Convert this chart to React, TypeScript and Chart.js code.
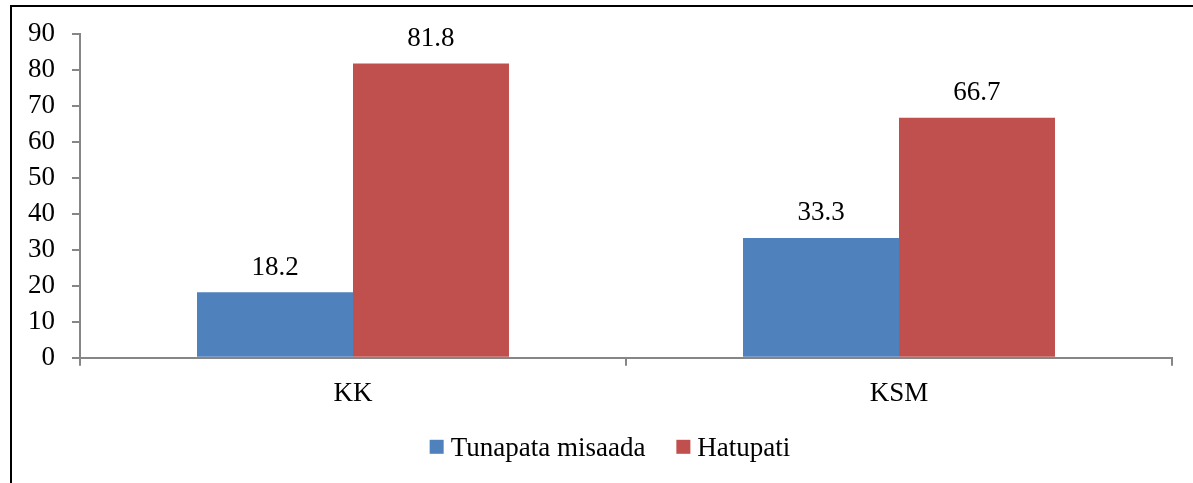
import React, { useEffect, useRef } from "react";
import { Chart, registerables } from "chart.js";

Chart.register(...registerables);

const categories = ["KK", "KSM"];
const seriesNames = ["Tunapata misaada", "Hatupati"];
const tunapataValues = [18.2, 33.3];
const hatupatiValues = [81.8, 66.7];
const seriesColors = ["#4F81BD", "#C0504D"];
const yMin = 0;
const yMax = 90;
const yStep = 10;

const FONT_FAMILY = "'Liberation Serif', 'Times New Roman', serif";
const FONT_SIZE = 27;
const FONT = `${FONT_SIZE}px ${FONT_FAMILY}`;
const AXIS_COLOR = "#868686";

const valueLabelPlugin = {
  id: "valueLabels",
  afterDatasetsDraw(chart: any) {
    const ctx = chart.ctx;
    ctx.save();
    ctx.font = FONT;
    ctx.fillStyle = "#000";
    ctx.textAlign = "center";
    ctx.textBaseline = "alphabetic";
    chart.data.datasets.forEach((ds: any, i: number) => {
      const meta = chart.getDatasetMeta(i);
      meta.data.forEach((el: any, j: number) => {
        const v = ds.data[j];
        ctx.fillText(String(v), el.x, el.y - 17.5);
      });
    });
    ctx.restore();
  },
};

const legendPlugin = {
  id: "customLegend",
  afterDraw(chart: any) {
    const ctx = chart.ctx;
    ctx.save();
    ctx.font = FONT;
    ctx.textAlign = "left";
    ctx.textBaseline = "alphabetic";
    const box = 14;
    const gapBoxText = 7;
    const gapItems = 31;
    const items = chart.data.datasets.map((ds: any) => ({
      label: ds.label,
      color: ds.backgroundColor,
      w: ctx.measureText(ds.label).width,
    }));
    let total = 0;
    items.forEach((it: any, i: number) => {
      total += box + gapBoxText + it.w + (i > 0 ? gapItems : 0);
    });
    const ca = chart.chartArea;
    const center = (ca.left + ca.right) / 2 - 16;
    let x = center - total / 2;
    const baseline = ca.bottom + 97.8;
    items.forEach((it: any) => {
      ctx.fillStyle = it.color;
      ctx.fillRect(x, baseline - 15.7, box, box);
      ctx.fillStyle = "#000";
      ctx.fillText(it.label, x + box + gapBoxText, baseline);
      x += box + gapBoxText + it.w + gapItems;
    });
    ctx.restore();
  },
};

export default function App() {
  const canvasRef = useRef<HTMLCanvasElement | null>(null);

  useEffect(() => {
    if (!canvasRef.current) return;
    const chart = new Chart(canvasRef.current, {
      type: "bar",
      data: {
        labels: categories,
        datasets: [
          {
            label: seriesNames[0],
            data: tunapataValues,
            backgroundColor: seriesColors[0],
            borderWidth: 0,
          },
          {
            label: seriesNames[1],
            data: hatupatiValues,
            backgroundColor: seriesColors[1],
            borderWidth: 0,
          },
        ],
      },
      options: {
        animation: false,
        responsive: false,
        maintainAspectRatio: false,
        devicePixelRatio: 1,
        layout: { padding: { left: 10, top: 34, right: 21, bottom: 0 } },
        datasets: {
          bar: { barPercentage: 1, categoryPercentage: 0.5714 },
        },
        plugins: {
          legend: { display: false },
          tooltip: { enabled: false },
          title: { display: false },
        },
        scales: {
          x: {
            grid: {
              display: true,
              drawOnChartArea: false,
              drawTicks: true,
              tickLength: 8,
              color: AXIS_COLOR,
              lineWidth: 2,
              offset: true,
            },
            border: { display: true, color: AXIS_COLOR, width: 2 },
            ticks: {
              color: "#000",
              font: { family: FONT_FAMILY, size: FONT_SIZE },
              padding: 12,
              maxRotation: 0,
            },
            afterFit(scale: any) {
              scale.height = 125.3;
            },
          },
          y: {
            min: yMin,
            max: yMax,
            grid: {
              display: true,
              drawOnChartArea: false,
              drawTicks: true,
              tickLength: 8,
              color: AXIS_COLOR,
              lineWidth: 2,
            },
            border: { display: true, color: AXIS_COLOR, width: 2 },
            ticks: {
              stepSize: yStep,
              color: "#000",
              font: { family: FONT_FAMILY, size: FONT_SIZE },
              padding: 17,
            },
            afterFit(scale: any) {
              scale.width = 70;
            },
          },
        },
      },
      plugins: [valueLabelPlugin, legendPlugin],
    });
    return () => chart.destroy();
  }, []);

  return (
    <div
      style={{
        position: "fixed",
        left: 0,
        top: 0,
        width: 1193,
        height: 483,
        overflow: "hidden",
        background: "#fff",
      }}
    >
      <div
        style={{
          position: "absolute",
          left: 10,
          top: 5,
          width: 1300,
          height: 600,
          borderLeft: "2px solid #000",
          borderTop: "2px solid #000",
        }}
      />
      <canvas
        ref={canvasRef}
        width={1193}
        height={483}
        style={{ position: "absolute", left: 0, top: 0, width: 1193, height: 483 }}
      />
    </div>
  );
}
